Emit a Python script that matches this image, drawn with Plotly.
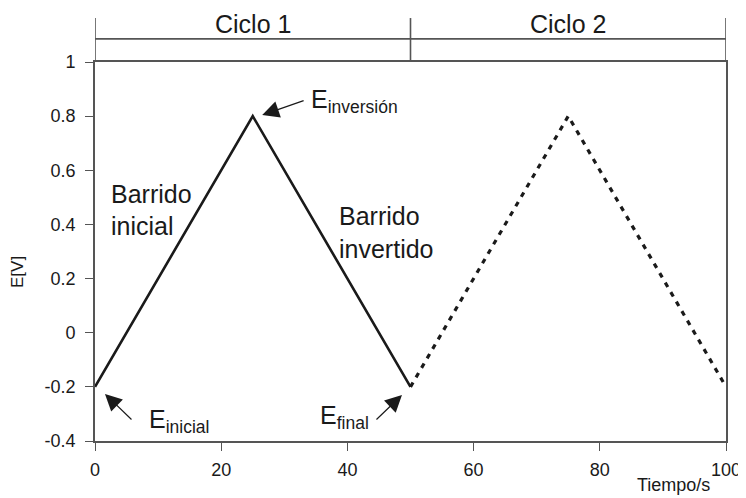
import plotly.graph_objects as go

# potential sweep (two cycles)
t_ciclo1 = [0, 25, 50]
e_ciclo1 = [-0.2, 0.8, -0.2]
t_ciclo2 = [50, 75, 100]
e_ciclo2 = [-0.2, 0.8, -0.2]

x_ticks = [0, 20, 40, 60, 80, 100]
y_ticks = [-0.4, -0.2, 0, 0.2, 0.4, 0.6, 0.8, 1]
y_labels = ["-0.4", "-0.2", "0", "0.2", "0.4", "0.6", "0.8", "1"]

ciclos = ["Ciclo 1", "Ciclo 2"]
ciclo_lims = [0, 50, 100]

font_name = "Liberation Sans, Arial, sans-serif"
ink = "#1a1a1a"
grey = "#555555"

fig = go.Figure()

fig.add_scatter(x=t_ciclo1, y=e_ciclo1, mode="lines",
                line=dict(color=ink, width=2.6), showlegend=False)
fig.add_scatter(x=t_ciclo2, y=e_ciclo2, mode="lines",
                line=dict(color=ink, width=3.2, dash="5px,6px"), showlegend=False)

# band with the cycle labels above the plot
band_y = 1.061
top_y = 1.116
shapes = [dict(type="line", xref="x", yref="paper", x0=0, x1=100, y0=band_y, y1=band_y,
               line=dict(color=grey, width=1.6))]
for lim in ciclo_lims:
    shapes.append(dict(type="line", xref="x", yref="paper", x0=lim, x1=lim, y0=1, y1=top_y,
                       line=dict(color=grey, width=1.6)))

annotations = []
for i, name in enumerate(ciclos):
    annotations.append(dict(x=(ciclo_lims[i] + ciclo_lims[i + 1]) / 2, y=1.100,
                            xref="x", yref="paper", yanchor="middle", text=name,
                            showarrow=False, font=dict(size=25, color=ink)))

# sweep labels
for txt, x, y in [("Barrido", 2.2, 0.511), ("inicial", 2.2, 0.393),
                  ("Barrido", 38.4, 0.433), ("invertido", 38.4, 0.311)]:
    annotations.append(dict(x=x, y=y, text=txt, showarrow=False, xanchor="left",
                            font=dict(size=25, color=ink)))

# potential labels
for txt, x, y in [("E<sub>inversión</sub>", 33.9, 0.856),
                  ("E<sub>inicial</sub>", 8.2, -0.326),
                  ("E<sub>final</sub>", 35.4, -0.311)]:
    annotations.append(dict(x=x, y=y, text=txt, showarrow=False, xanchor="left",
                            font=dict(size=25, color=ink)))

# arrows (tip, tail)
for tip, tail in [((26.5, 0.804), (33.3, 0.859)),
                  ((1.58, -0.226), (6.02, -0.326)),
                  ((48.65, -0.230), (44.37, -0.326))]:
    annotations.append(dict(x=tip[0], y=tip[1], ax=tail[0], ay=tail[1],
                            axref="x", ayref="y", text="", showarrow=True,
                            arrowhead=2, arrowsize=2.8, arrowwidth=1.2, arrowcolor=ink))

annotations.append(dict(x=0.978, y=-0.116, xref="paper", yref="paper", text="Tiempo/s",
                        showarrow=False, xanchor="right", yanchor="middle",
                        font=dict(size=18, color=ink)))
annotations.append(dict(x=-0.122, y=0.446, xref="paper", yref="paper", text="E[V]",
                        showarrow=False, textangle=-90, xanchor="center", yanchor="middle",
                        font=dict(size=17, color=ink)))

# page body keeps an 8px margin, so the figure is 8px smaller and shifted
fig.update_layout(
    width=738, height=490,
    margin=dict(l=87, r=20, t=54, b=57, autoexpand=False),
    plot_bgcolor="white", paper_bgcolor="white",
    font=dict(family=font_name, color=ink),
    shapes=shapes, annotations=annotations,
    xaxis=dict(range=[0, 100], tickvals=x_ticks, ticks="outside", ticklen=8,
               tickcolor=grey, showline=True, linecolor=grey, linewidth=1.6,
               mirror=True, showgrid=False, zeroline=False, ticklabelstandoff=4,
               tickfont=dict(size=18, color=ink)),
    yaxis=dict(range=[-0.4, 1], tickvals=y_ticks, ticktext=y_labels, ticks="outside",
               ticklen=8, tickcolor=grey, showline=True, linecolor=grey, linewidth=1.6,
               mirror=True, showgrid=False, zeroline=False, ticklabelstandoff=6,
               tickfont=dict(size=18, color=ink)),
)

fig.write_html("out.html")
